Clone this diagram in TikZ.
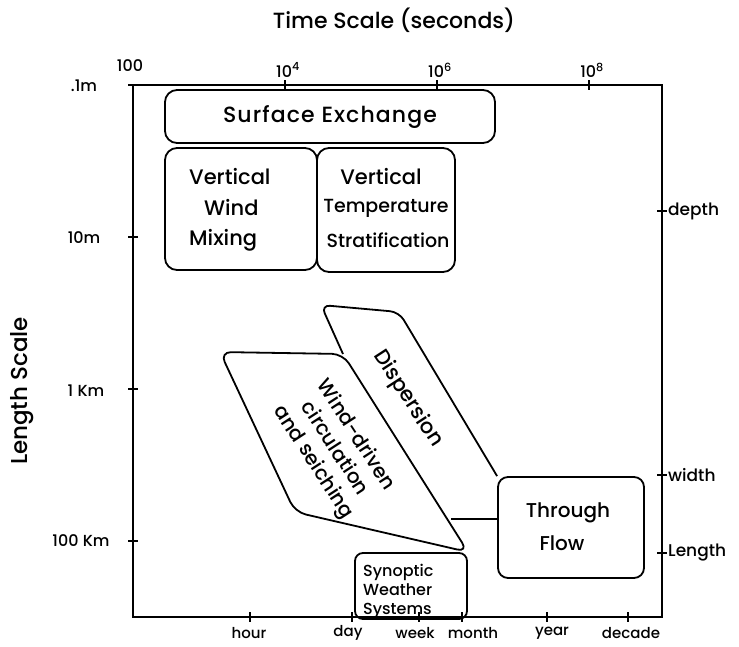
\documentclass[tikz,border=0pt]{standalone}
\usepackage{fontspec}
\setmainfont{Poppins}[UprightFont=* Medium]
\usetikzlibrary{calc}
\begin{document}
\begin{tikzpicture}[x=1pt,y=-1pt,
  box/.style={draw,line width=1.8pt,rounded corners=12pt,inner sep=0pt},
  frame/.style={line width=1.6pt},
  tick/.style={line width=1.4pt},
  tl/.style={font=\fontsize{16}{18}\selectfont,inner sep=0pt},
  bl/.style={font=\fontsize{15}{18}\selectfont,inner sep=0pt},
  rl/.style={font=\fontsize{17}{18}\selectfont,inner sep=0pt,anchor=west},
  mid/.style={font=\fontsize{21}{26}\selectfont,inner sep=0pt},
  rot/.style={align=center,rotate=-57}]
\useasboundingbox (0,0) rectangle (739,646);
% frame
\draw[frame] (133,85) rectangle (662,617);
% titles
\node[font=\fontsize{22}{24}\selectfont] (ttl) at (394,20) {Time Scale (seconds)};
\node[font=\fontsize{23}{24}\selectfont,rotate=90] (lsc) at (22,391) {Length Scale};
% top ticks
\node[tl] (t100) at (130,66) {100};
\foreach \x/\e in {285/4,437/6,589/8}{
  \draw[tick] (\x,80) -- (\x,90);
  \node[tl] (t\e) at (\x+3,70) {10\textsuperscript{\e}};
}
% left ticks
\foreach \y in {85,237,389,541}{
  \draw[tick] (128,\y) -- (138,\y);
}
\node[tl] (la) at (84,86) {.1m};
\node[tl] (lb) at (84,238) {10m};
\node[tl] (lc) at (86,391) {1 Km};
\node[tl] (ld) at (81,541) {100 Km};
% right ticks
\foreach \y/\t/\n in {211/depth/a,475/width/b,553/Length/c}{
  \draw[tick] (657,\y) -- (667,\y);
  \node[rl] (r\n) at (668,\y) {\t};
}
% bottom ticks
\foreach \x/\lx/\t in {250/249/hour,352/348/day,419/415/week,462/473/month,547/552/year,628/631/decade}{
  \draw[tick] (\x,612) -- (\x,622);
  \node[bl] (b\t) at (\lx,633) {\t};
}
% boxes
\node[box,font=\fontsize{22}{24}\selectfont\addfontfeatures{LetterSpace=5},minimum width=330pt,minimum height=53pt] (surf) at (330,116.5) {Surface Exchange};
\node[box,minimum width=152pt,minimum height=122pt] (vwm) at (241,209) {};
\node[mid,anchor=west] (vwm1) at (189,177) {Vertical};
\node[mid,anchor=west] (vwm2) at (204,208) {Wind};
\node[mid,anchor=west] (vwm3) at (189,240) {Mixing};
\node[box,minimum width=138pt,minimum height=124pt] (vts) at (386,210) {};
\node[mid] (vts1) at (381,177) {Vertical};
\node[font=\fontsize{19}{26}\selectfont,inner sep=0pt] (vts2) at (386,208) {Temperature};
\node[font=\fontsize{19}{26}\selectfont,inner sep=0pt] (vts3) at (388,240) {Stratification};
\node[box,minimum width=146pt,minimum height=101pt,rounded corners=10pt] (tf) at (571,527.5) {};
\node[mid,font=\fontsize{20}{26}\selectfont] (tf1) at (568,513) {Through};
\node[mid,font=\fontsize{20}{26}\selectfont] (tf2) at (562,543) {Flow};
\node[box,minimum width=112pt,minimum height=66pt,rounded corners=8pt] (syn) at (411,586) {};
\node[font=\fontsize{16}{19}\selectfont,align=left,anchor=north west,inner sep=0pt] (synt) at (363,564) {Synoptic\\Weather\\Systems};
% parallelograms
\coordinate (wTL) at (220,352);
\coordinate (wTR) at (343,354);
\coordinate (wBR) at (468,552);
\coordinate (wBL) at (295,512);
\draw[line width=1.8pt,rounded corners=11pt] ($(wTL)!0.5!(wTR)$) -- (wTR) -- (wBR) -- (wBL) -- (wTL) -- cycle;
\draw[line width=1.8pt,rounded corners=9pt] (wTR) -- (321,305) -- (399,312) -- (tf.north west);
\coordinate (wj) at ($(wTR)!0.86!(wBR)$);
\draw[line width=1.8pt] (tf.west |- 0,519) -- (wj |- 0,519);
\node[rot,font=\fontsize{21}{24}\selectfont] (disp) at (408,399) {Dispersion};
\node[rot,font=\fontsize{20}{25}\selectfont] (wind) at (334,449) {Wind-driven\\circulation\\and seiching};
\end{tikzpicture}
\end{document}
